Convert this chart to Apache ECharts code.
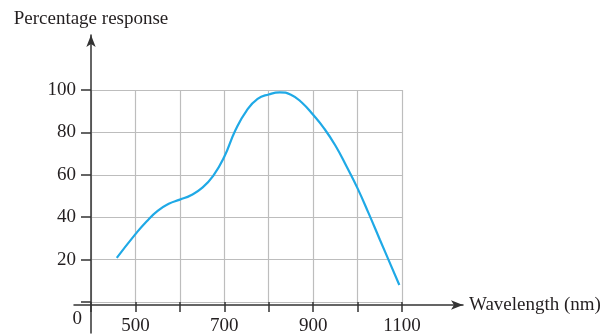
<!DOCTYPE html>
<html>
<head>
<meta charset="utf-8">
<script src="https://cdn.jsdelivr.net/npm/echarts@6/dist/echarts.min.js"></script>
<style>
  html, body { margin: 0; padding: 0; background: #fff; }
  #main { width: 605px; height: 336px; }
</style>
</head>
<body>
<div id="main"></div>
<script>
// 曲线数据
var wavelength = [458, 500, 525, 550, 575, 600, 625, 650, 675, 700, 725, 750, 775, 800, 825, 850, 875, 900, 925, 950, 975, 1000, 1025, 1050, 1075, 1094];
var response = [20.8, 32, 38, 43, 46.3, 48.3, 50.4, 53.8, 59.5, 68.5, 81, 90.2, 95.8, 97.9, 98.9, 97.8, 94, 88.3, 81.8, 73.8, 64, 53.6, 41.8, 29.5, 17.3, 8];
// 刻度
var xTickLabels = [500, 700, 900, 1100];
var yTickLabels = [20, 40, 60, 80, 100];
var originLabel = '0';

var points = [];
for (var i = 0; i < wavelength.length; i++) {
  points.push([wavelength[i], response[i]]);
}

var font = 'Liberation Serif, Times New Roman, serif';
var axisColor = '#333';
var textColor = '#231f20';

var myChart = echarts.init(document.getElementById('main'));
myChart.setOption({
  animation: false,
  grid: [
    // 网格区域
    { left: 91, right: 203, top: 90, bottom: 31 },
    // x 轴箭头
    { left: 74, right: 142, top: 90, bottom: 31 },
    // y 轴箭头
    { left: 91, right: 203, top: 35, bottom: 3 }
  ],
  xAxis: [
    {
      gridIndex: 0,
      type: 'value',
      min: 400,
      max: 1100,
      interval: 100,
      axisLine: { show: false },
      axisTick: { show: true, length: 10, lineStyle: { color: axisColor, width: 1.5 } },
      splitLine: { show: true, lineStyle: { color: '#bdbdbd', width: 1.2 } },
      axisLabel: {
        margin: 15,
        color: textColor,
        fontFamily: font,
        fontSize: 19,
        formatter: function (v) {
          return xTickLabels.indexOf(v) >= 0 ? String(v) : '';
        }
      }
    },
    {
      gridIndex: 1,
      type: 'value',
      min: 0,
      max: 1,
      axisLine: {
        show: true,
        symbol: ['none', 'arrow'],
        symbolSize: [7, 12],
        lineStyle: { color: axisColor, width: 1.5 }
      },
      axisTick: { show: false },
      axisLabel: { show: false },
      splitLine: { show: false },
      name: 'Wavelength (nm)',
      nameLocation: 'end',
      nameGap: 6,
      nameTextStyle: { color: textColor, fontFamily: font, fontSize: 19 }
    },
    {
      gridIndex: 2,
      type: 'value',
      min: 0,
      max: 1,
      show: false
    },
    {
      // 原点 "0"
      gridIndex: 0,
      type: 'value',
      position: 'bottom',
      min: 400,
      max: 1100,
      interval: 700,
      axisLine: { show: false },
      axisTick: { show: false },
      splitLine: { show: false },
      axisLabel: {
        margin: 8,
        align: 'right',
        padding: [0, 9, 0, 0],
        color: textColor,
        fontFamily: font,
        fontSize: 19,
        formatter: function (v) {
          return v === 400 ? originLabel : '';
        }
      }
    }
  ],
  yAxis: [
    {
      gridIndex: 0,
      type: 'value',
      min: 0,
      max: 100,
      interval: 20,
      axisLine: { show: false },
      axisTick: { show: true, length: 10, lineStyle: { color: axisColor, width: 1.5 } },
      splitLine: { show: true, lineStyle: { color: '#bdbdbd', width: 1.2 } },
      axisLabel: {
        margin: 15,
        color: textColor,
        fontFamily: font,
        fontSize: 19,
        formatter: function (v) {
          return yTickLabels.indexOf(v) >= 0 ? String(v) : '';
        }
      }
    },
    {
      gridIndex: 1,
      type: 'value',
      min: 0,
      max: 1,
      show: false
    },
    {
      gridIndex: 2,
      type: 'value',
      min: 0,
      max: 1,
      axisLine: {
        show: true,
        symbol: ['none', 'arrow'],
        symbolSize: [7, 12],
        lineStyle: { color: axisColor, width: 1.5 }
      },
      axisTick: { show: false },
      axisLabel: { show: false },
      splitLine: { show: false },
      name: 'Percentage response',
      nameLocation: 'end',
      nameGap: 6,
      nameTextStyle: { color: textColor, fontFamily: font, fontSize: 19 }
    }
  ],
  series: [
    {
      type: 'line',
      xAxisIndex: 0,
      yAxisIndex: 0,
      data: points,
      smooth: 0.5,
      showSymbol: false,
      lineStyle: { color: '#1fa9e6', width: 2.2 },
      z: 5
    }
  ]
});
</script>
</body>
</html>
